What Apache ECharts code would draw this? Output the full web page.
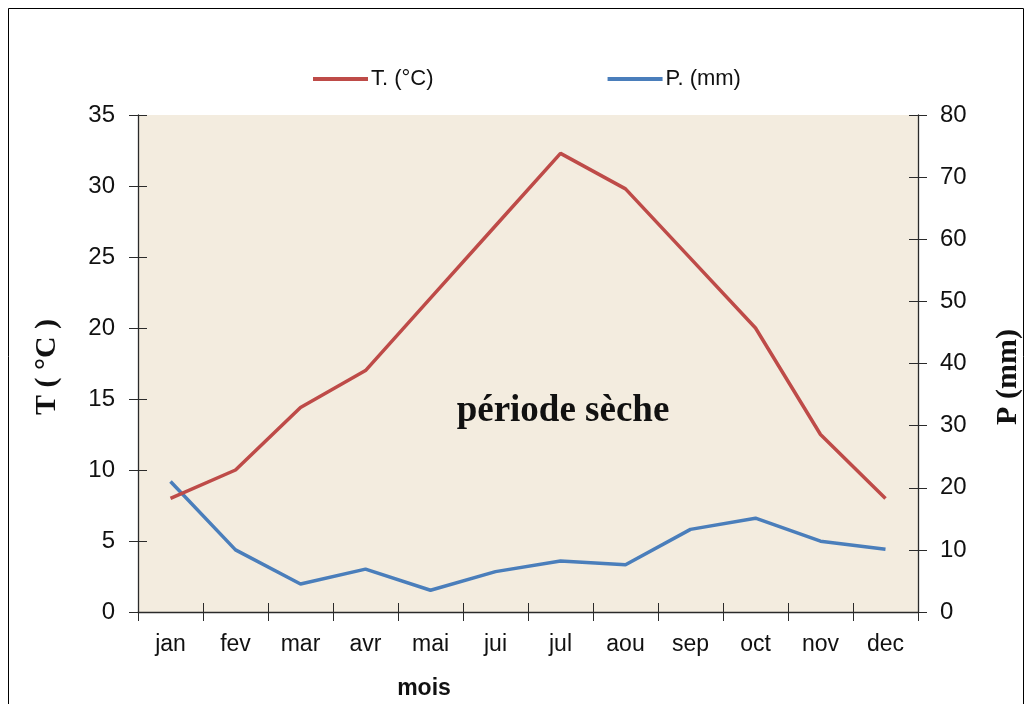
<!DOCTYPE html>
<html><head><meta charset="utf-8">
<script src="https://cdn.jsdelivr.net/npm/echarts@6/dist/echarts.min.js"></script>
<style>html,body{margin:0;padding:0;background:#fff}#c{width:1033px;height:704px}</style>
</head><body><div id="c"></div>
<script>
const months = ['jan','fev','mar','avr','mai','jui','jul','aou','sep','oct','nov','dec'];
const temperature = [8.0, 10.0, 14.4, 17.0, 22.1, 27.2, 32.3, 29.8, 24.9, 20.0, 12.5, 8.0];
const precipitation = [21.0, 10.0, 4.5, 6.9, 3.5, 6.5, 8.2, 7.6, 13.3, 15.1, 11.4, 10.1];
const tTicks = {min: 0, max: 35, interval: 5};
const pTicks = {min: 0, max: 80, interval: 10};

const chart = echarts.init(document.getElementById('c'));
const F = 'Liberation Sans, Arial, sans-serif';
const S = 'Liberation Serif, Times New Roman, serif';
const axisCol = '#2a2a2a';
const baseX = {type:'category', data: months, boundaryGap:true, position:'bottom'};
chart.setOption({
  animation:false,
  backgroundColor:'#fff',
  graphic:[
    {type:'rect', shape:{x:8.5,y:8.5,width:1015,height:720}, style:{fill:'none',stroke:'#000',lineWidth:1}, silent:true, z:-1},
    {type:'text', x:563, y:411, style:{text:'période sèche', font:'bold 37px '+S, fill:'#111', align:'center', verticalAlign:'middle'}, z:10},
    {type:'text', x:47, y:367, rotation:Math.PI/2, style:{text:'T ( °C )', font:'bold 30px '+S, fill:'#111', align:'center', verticalAlign:'middle'}, z:10},
    {type:'text', x:1008, y:377, rotation:Math.PI/2, style:{text:'P (mm)', font:'bold 30px '+S, fill:'#111', align:'center', verticalAlign:'middle'}, z:10},
    {type:'text', x:424, y:689, style:{text:'mois', font:'bold 23px '+F, fill:'#111', align:'center', verticalAlign:'middle'}, z:10}
  ],
  legend:{
    top:63, left:308, itemGap:174, itemWidth:55, itemHeight:4, icon:'rect',
    textStyle:{fontFamily:F, fontSize:22, color:'#111', padding:[0,0,0,-2]},
    data:['T. (°C)','P. (mm)']
  },
  grid:{left:138, right:115, top:115, bottom:92, show:true, backgroundColor:'#F3ECDF', borderWidth:0},
  xAxis:[
    Object.assign({}, baseX, {
      axisLine:{lineStyle:{color:axisCol, width:1.3}},
      axisTick:{show:true, length:9, lineStyle:{color:axisCol}},
      axisLabel:{fontFamily:F, fontSize:23, color:'#111', margin:21},
      splitLine:{show:false}
    }),
    Object.assign({}, baseX, {
      axisLine:{show:false}, axisLabel:{show:false}, splitLine:{show:false},
      axisTick:{show:true, inside:true, length:9, lineStyle:{color:axisCol}}
    })
  ],
  yAxis:[
    Object.assign({type:'value', position:'left'}, tTicks, {
      axisLine:{show:true, lineStyle:{color:axisCol, width:1.3}},
      axisTick:{show:true, length:9, lineStyle:{color:axisCol}},
      axisLabel:{fontFamily:F, fontSize:24, color:'#111', margin:23},
      splitLine:{show:false}
    }),
    Object.assign({type:'value', position:'right'}, pTicks, {
      axisLine:{show:true, lineStyle:{color:axisCol, width:1.3}},
      axisTick:{show:true, length:9, lineStyle:{color:axisCol}},
      axisLabel:{fontFamily:F, fontSize:24, color:'#111', margin:22},
      splitLine:{show:false}
    }),
    Object.assign({type:'value', position:'left'}, tTicks, {
      axisLine:{show:false}, axisLabel:{show:false}, splitLine:{show:false},
      axisTick:{show:true, inside:true, length:9, lineStyle:{color:axisCol}}
    }),
    Object.assign({type:'value', position:'right'}, pTicks, {
      axisLine:{show:false}, axisLabel:{show:false}, splitLine:{show:false},
      axisTick:{show:true, inside:true, length:9, lineStyle:{color:axisCol}}
    })
  ],
  series:[
    {name:'T. (°C)', type:'line', xAxisIndex:0, yAxisIndex:0, data:temperature, showSymbol:false, symbol:'none',
     lineStyle:{color:'#BE4B48', width:3.5}, itemStyle:{color:'#BE4B48'}, z:5},
    {name:'P. (mm)', type:'line', xAxisIndex:0, yAxisIndex:1, data:precipitation, showSymbol:false, symbol:'none',
     lineStyle:{color:'#4A7EBB', width:3.5}, itemStyle:{color:'#4A7EBB'}, z:4}
  ]
});
</script></body></html>
